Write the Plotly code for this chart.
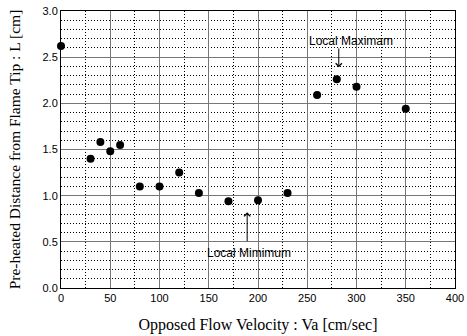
import plotly.graph_objects as go

velocity = [0, 30, 40, 50, 60, 80, 100, 120, 140, 170, 200, 230, 260, 280, 300, 350]
distance = [2.62, 1.40, 1.58, 1.48, 1.55, 1.10, 1.10, 1.25, 1.03, 0.94, 0.95, 1.03, 2.09, 2.26, 2.18, 1.94]

x_ticks = [0, 50, 100, 150, 200, 250, 300, 350, 400]
y_ticks = [0.0, 0.5, 1.0, 1.5, 2.0, 2.5, 3.0]

fig = go.Figure()
fig.add_trace(go.Scatter(
    x=velocity, y=distance, mode="markers",
    marker=dict(color="black", size=8),
    cliponaxis=False, showlegend=False,
))

ann_font = dict(family="Liberation Sans, Arial, sans-serif", size=12, color="black")
fig.add_annotation(x=294, y=2.67, text="Local Maximam", showarrow=False, font=ann_font,
                   xref="x", yref="y")
fig.add_annotation(x=282, y=2.39, ax=282, ay=2.61, axref="x", ayref="y", text="",
                   showarrow=True, arrowhead=4, arrowsize=1.2, arrowwidth=1, arrowcolor="black")
fig.add_annotation(x=191, y=0.38, text="Local Mimimum", showarrow=False, font=ann_font,
                   xref="x", yref="y")
fig.add_annotation(x=189, y=0.82, ax=189, ay=0.49, axref="x", ayref="y", text="",
                   showarrow=True, arrowhead=4, arrowsize=1.2, arrowwidth=1, arrowcolor="black")

tick_font = dict(family="Liberation Sans, Arial, sans-serif", size=11, color="black")

fig.update_xaxes(
    range=[0, 400], tickvals=x_ticks, ticktext=[str(v) for v in x_ticks],
    showline=True, linecolor="black", linewidth=1, mirror=True,
    showgrid=True, gridcolor="#777777", gridwidth=1,
    minor=dict(dtick=25, tick0=0, showgrid=True, gridcolor="black", griddash="1px,2px", gridwidth=1),
    zeroline=False, ticks="", tickfont=tick_font, automargin=False,
    title=dict(text="Opposed Flow Velocity : Va [cm/sec]",
               font=dict(family="Liberation Serif, Times New Roman, serif", size=16, color="black"),
               standoff=15),
)
fig.update_yaxes(
    range=[0, 3.0], tickvals=y_ticks, ticktext=[f"{v:.1f}" for v in y_ticks],
    showline=True, linecolor="black", linewidth=1, mirror=True,
    showgrid=True, gridcolor="#777777", gridwidth=1,
    minor=dict(dtick=0.1, tick0=0, showgrid=True, gridcolor="black", griddash="1px,2px", gridwidth=1),
    zeroline=False, ticks="", tickfont=tick_font, automargin=False,
    title=dict(text="Pre-heated Distance from Flame Tip : L [cm]",
               font=dict(family="Liberation Serif, Times New Roman, serif", size=15.5, color="black"),
               standoff=18),
)

fig.update_layout(
    width=467, height=336,
    margin=dict(l=61, r=12, t=11, b=48),
    plot_bgcolor="white", paper_bgcolor="white",
)

fig.write_html("out.html", config={"displayModeBar": False},
               post_script="document.body.style.margin='0';")
